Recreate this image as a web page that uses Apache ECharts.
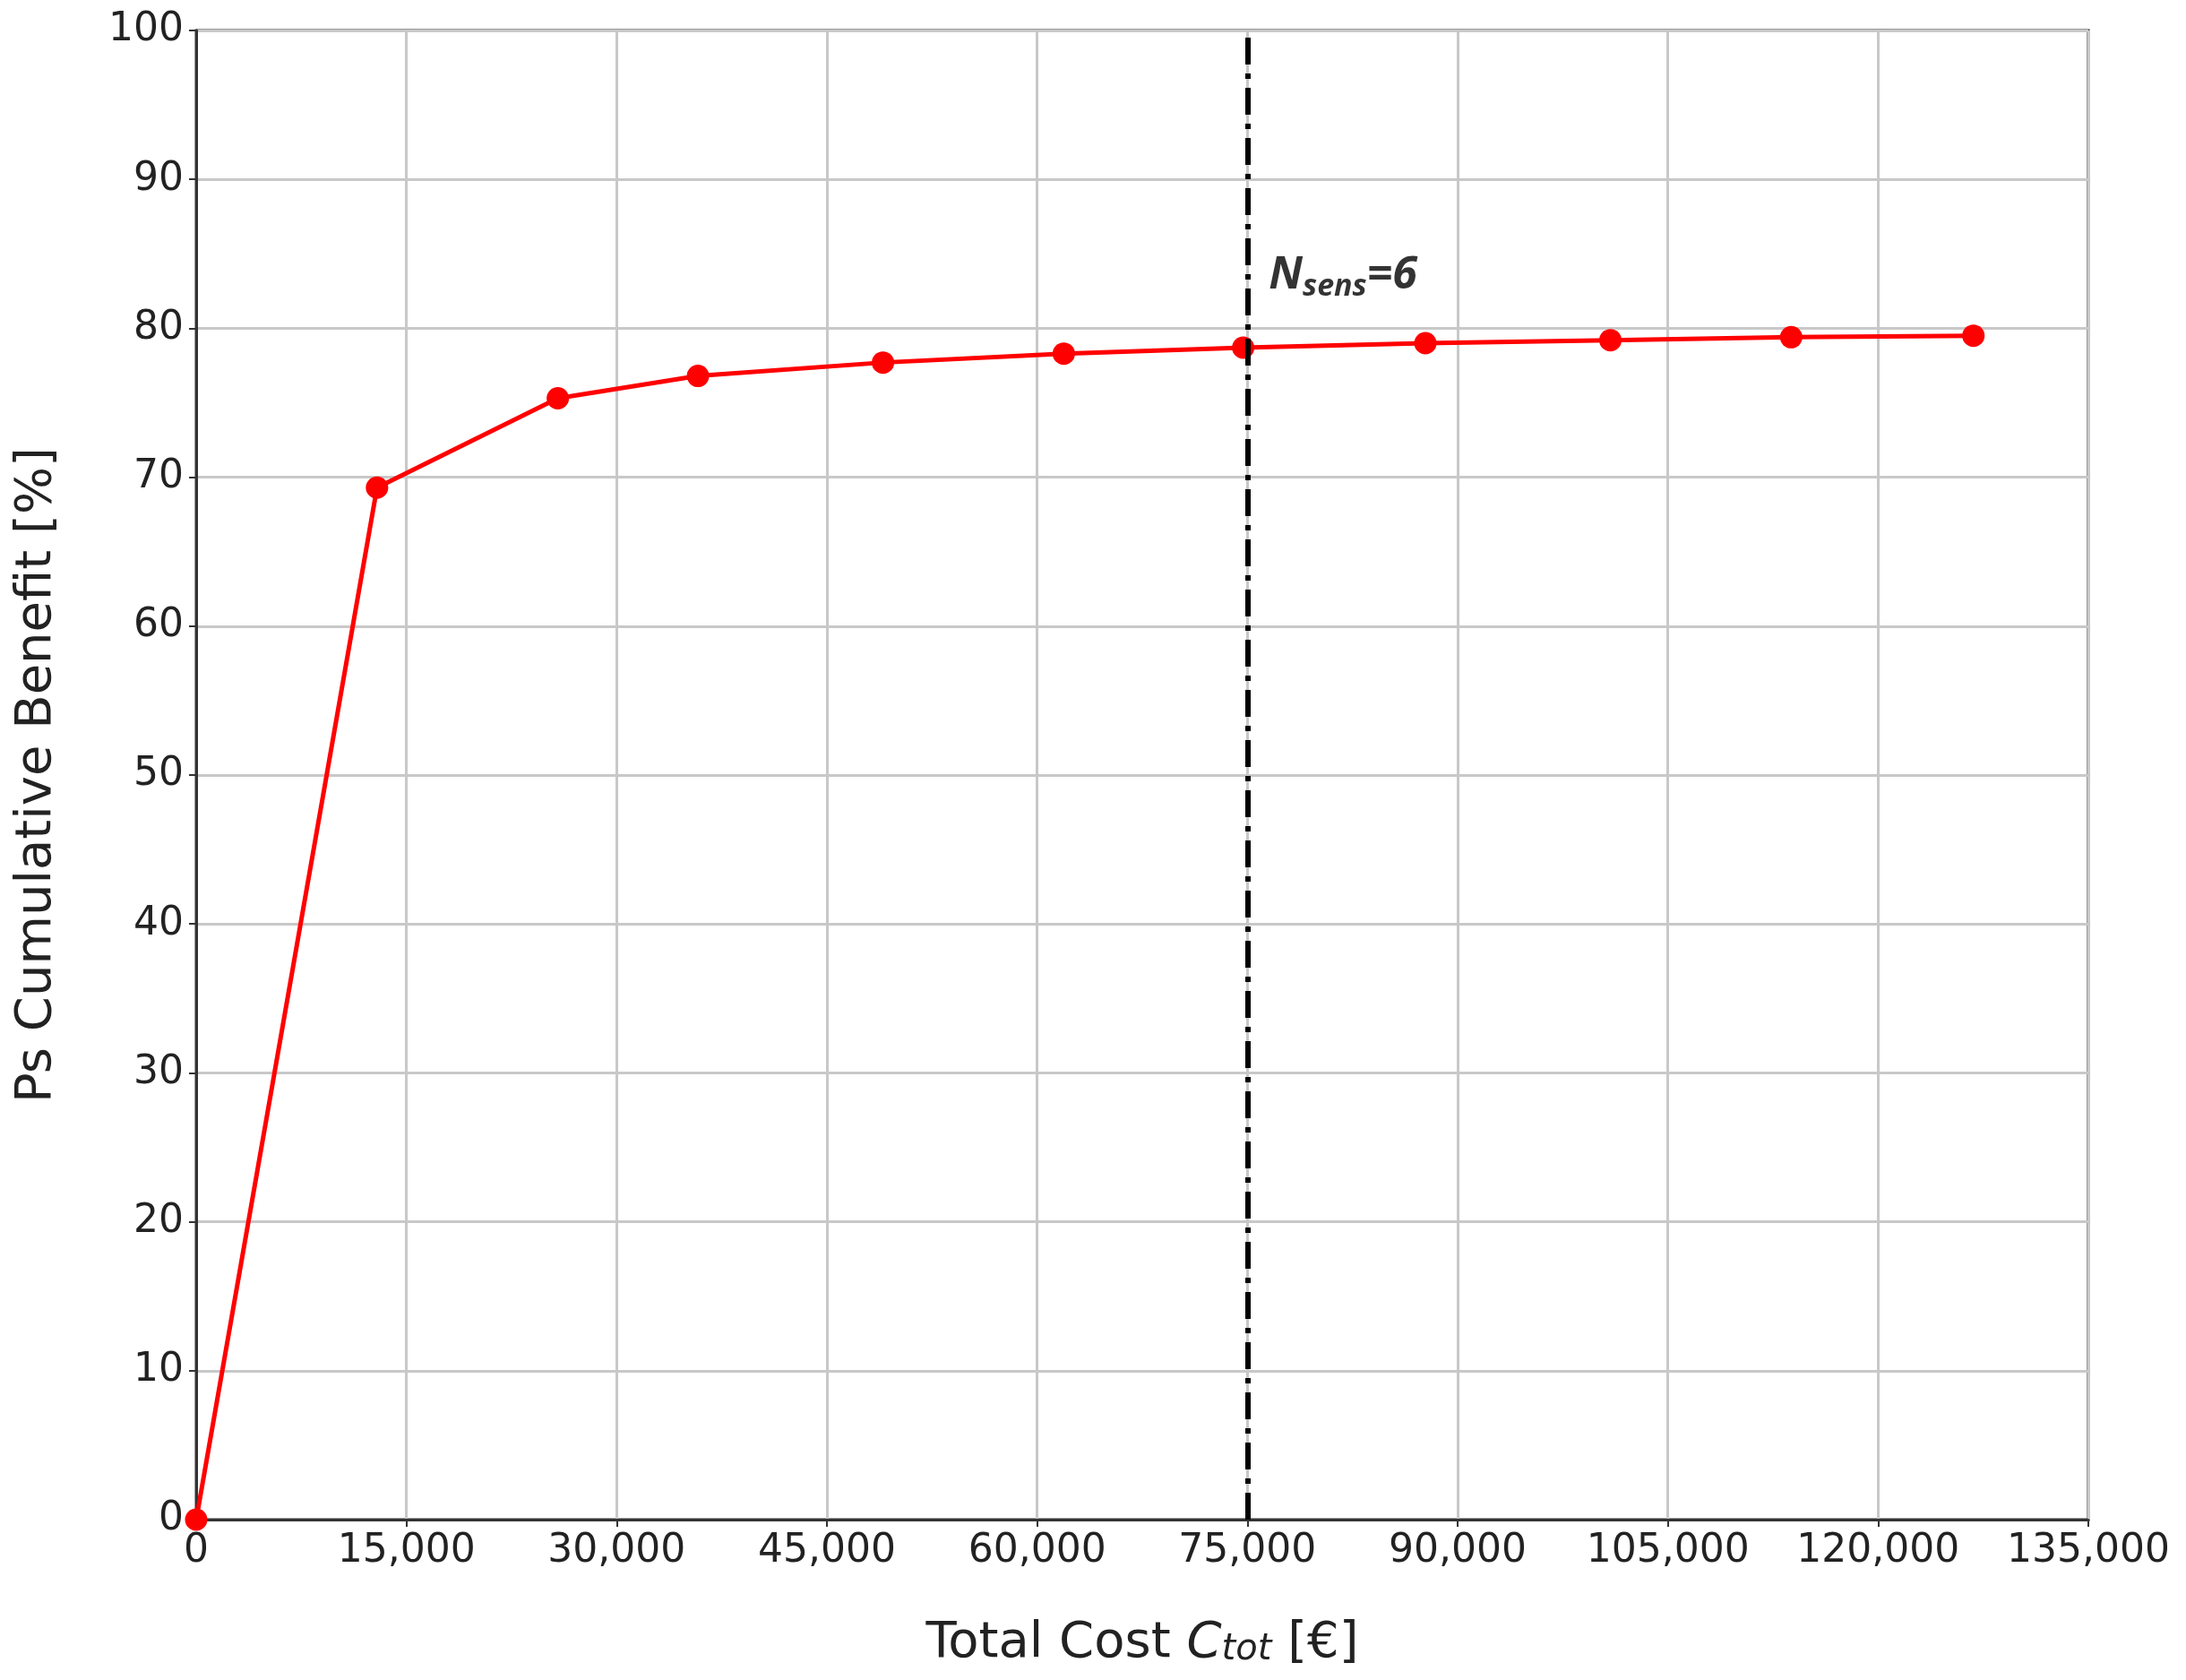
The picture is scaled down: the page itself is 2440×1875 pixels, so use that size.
<!DOCTYPE html>
<html>
<head>
<meta charset="utf-8">
<script src="https://cdn.jsdelivr.net/npm/echarts@6/dist/echarts.min.js"></script>
<style>
  html, body { margin: 0; padding: 0; background: #fff; }
  #chart { width: 2440px; height: 1875px; }
</style>
</head>
<body>
<div id="chart"></div>
<script>
// values
const costs = [0, 12900, 25800, 35800, 49000, 61900, 74700, 87700, 100900, 113800, 126800];
const benefit = [0, 69.3, 75.3, 76.8, 77.7, 78.3, 78.7, 79.0, 79.2, 79.4, 79.5];
const nSensCost = 75000;
const labelPos = [76500, 83.5];

const chart = echarts.init(document.getElementById('chart'));
const tickFont = { fontFamily: 'DejaVu Sans', fontSize: 44, color: '#222' };

let option = {
  animation: false,
  grid: {
    left: 219, right: 109, top: 34, bottom: 179,
    show: true, borderColor: '#333', borderWidth: 3, backgroundColor: 'transparent',
  },
  xAxis: {
    type: 'value',
    min: 0,
    max: 135000,
    interval: 15000,
    name: 'Total Cost {i|C}{s|tot} [€]',
    nameLocation: 'middle',
    nameGap: 110,
    nameTextStyle: {
      fontFamily: 'DejaVu Sans', fontSize: 56, color: '#222',
      rich: {
        i: { fontFamily: 'DejaVu Sans', fontStyle: 'italic', fontSize: 56, color: '#222' },
        s: { fontFamily: 'DejaVu Sans', fontStyle: 'italic', fontSize: 40, color: '#222', padding: [16, 0, 0, 0] },
      },
    },
    axisLine: { lineStyle: { color: '#333', width: 3 } },
    axisTick: { show: true, length: 8, lineStyle: { color: '#333', width: 2 } },
    axisLabel: {
      ...tickFont,
      margin: 14,
      formatter: v => v.toLocaleString('en-US'),
    },
    splitLine: { show: true, lineStyle: { color: '#c8c8c8', width: 3 } },
  },
  yAxis: {
    type: 'value',
    min: 0,
    max: 100,
    interval: 10,
    name: 'Ps Cumulative Benefit [%]',
    nameLocation: 'middle',
    nameGap: 150,
    nameTextStyle: { fontFamily: 'DejaVu Sans', fontSize: 56, color: '#222' },
    axisLine: { show: true, lineStyle: { color: '#333', width: 3 } },
    axisTick: { show: true, length: 8, lineStyle: { color: '#333', width: 2 } },
    axisLabel: { ...tickFont, margin: 14 },
    splitLine: { show: true, lineStyle: { color: '#c8c8c8', width: 3 } },
  },
  series: [
    {
      type: 'line',
      data: costs.map((c, i) => [c, benefit[i]]),
      symbol: 'circle',
      symbolSize: 25,
      lineStyle: { color: '#ff0000', width: 5 },
      itemStyle: { color: '#ff0000' },
      markLine: {
        silent: true,
        symbol: 'none',
        label: { show: false },
        lineStyle: { color: '#000', width: 6, type: [30, 10, 6, 10] },
        data: [{ xAxis: nSensCost }],
      },
      z: 3,
    },
    {
      type: 'scatter',
      data: [labelPos],
      symbolSize: 1,
      itemStyle: { color: 'transparent' },
      label: {
        show: true,
        position: 'right',
        distance: 0,
        color: '#000',
        formatter: '{n|N}{s|sens}{n|=6}',
        rich: {
          n: { fontFamily: 'Open Sans', fontWeight: 'bold', fontStyle: 'italic', fontSize: 50, color: '#000' },
          s: { fontFamily: 'Open Sans', fontWeight: 'bold', fontStyle: 'italic', fontSize: 34, color: '#000', padding: [24, 0, 0, 0] },
        },
      },
    },
  ],
};

chart.setOption(option);
</script>
</body>
</html>
